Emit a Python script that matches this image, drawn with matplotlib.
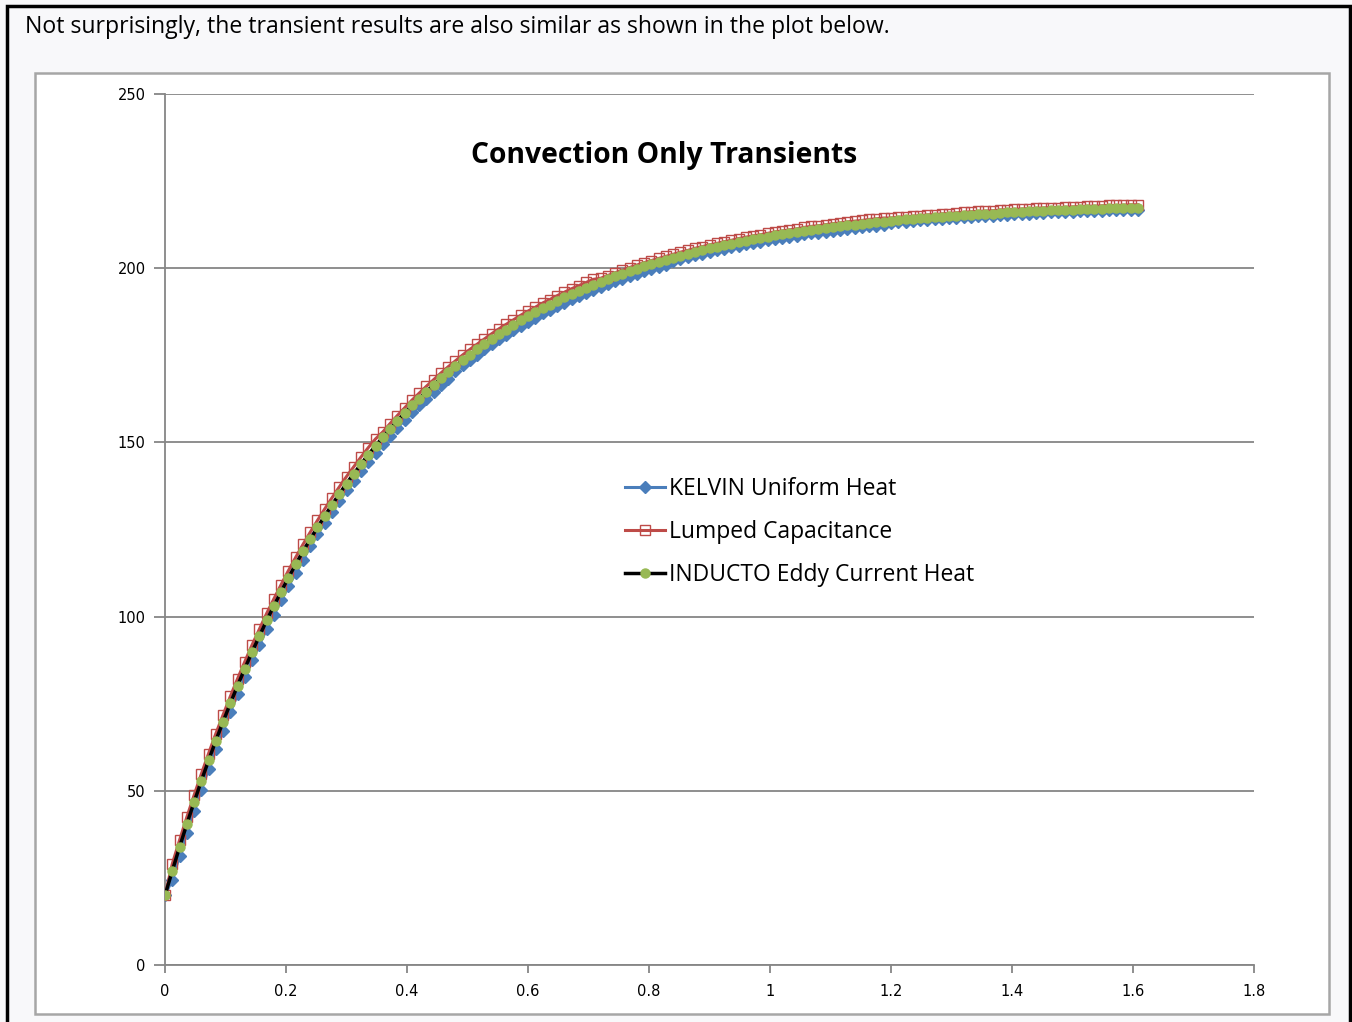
import numpy as np
import matplotlib.pyplot as plt
from matplotlib.ticker import FuncFormatter

# time grid (s) : markers every 0.012 s from 0 to 1.608
time = np.round(np.arange(135) * 0.012, 3)

# temperatures
inducto = [20.0, 27.0, 33.8, 40.4, 46.7, 52.8, 58.7, 64.4, 69.8, 75.1,
           80.2, 85.1, 89.9, 94.4, 98.9, 103.1, 107.2, 111.2, 115.0, 118.7,
           122.2, 125.6, 128.9, 132.1, 135.2, 138.2, 141.0, 143.8, 146.5, 149.0,
           151.5, 153.9, 156.2, 158.4, 160.6, 162.6, 164.6, 166.5, 168.4, 170.2,
           171.9, 173.6, 175.2, 176.7, 178.2, 179.7, 181.1, 182.4, 183.7, 185.0,
           186.2, 187.3, 188.5, 189.5, 190.6, 191.6, 192.6, 193.5, 194.4, 195.3,
           196.1, 196.9, 197.7, 198.4, 199.2, 199.9, 200.6, 201.2, 201.8, 202.4,
           203.0, 203.6, 204.1, 204.7, 205.2, 205.7, 206.1, 206.6, 207.0, 207.5,
           207.9, 208.3, 208.6, 209.0, 209.4, 209.7, 210.0, 210.3, 210.7, 211.0,
           211.2, 211.5, 211.8, 212.0, 212.3, 212.5, 212.7, 213.0, 213.2, 213.4,
           213.6, 213.8, 214.0, 214.1, 214.3, 214.5, 214.6, 214.8, 214.9, 215.1,
           215.2, 215.4, 215.5, 215.6, 215.7, 215.9, 216.0, 216.1, 216.2, 216.3,
           216.4, 216.5, 216.6, 216.6, 216.7, 216.8, 216.9, 217.0, 217.0, 217.1,
           217.2, 217.2, 217.3, 217.4, 217.4]

lumped = [20.0, 29.0, 35.8, 42.4, 48.7, 54.8, 60.7, 66.4, 71.8, 77.1,
          82.2, 87.1, 91.9, 96.4, 100.9, 105.1, 109.2, 113.2, 117.0, 120.7,
          124.2, 127.6, 130.9, 134.1, 137.2, 140.2, 143.0, 145.8, 148.5, 151.0,
          153.0, 155.4, 157.7, 159.9, 162.1, 164.1, 166.1, 168.0, 169.9, 171.7,
          173.4, 175.1, 176.7, 178.2, 179.7, 181.2, 182.6, 183.9, 185.2, 186.5,
          187.7, 188.8, 190.0, 191.0, 192.1, 193.1, 194.1, 195.0, 195.9, 196.8,
          197.1, 197.9, 198.7, 199.4, 200.2, 200.9, 201.6, 202.2, 202.8, 203.4,
          204.0, 204.6, 205.1, 205.7, 206.2, 206.7, 207.1, 207.6, 208.0, 208.5,
          208.9, 209.3, 209.6, 210.0, 210.4, 210.7, 211.0, 211.3, 211.7, 212.0,
          212.2, 212.5, 212.8, 213.0, 213.3, 213.5, 213.7, 214.0, 214.2, 214.4,
          214.4, 214.6, 214.8, 214.9, 215.1, 215.3, 215.4, 215.6, 215.7, 215.9,
          216.0, 216.2, 216.3, 216.4, 216.5, 216.7, 216.8, 216.9, 217.0, 217.1,
          217.2, 217.3, 217.4, 217.4, 217.5, 217.6, 217.7, 217.8, 217.8, 217.9,
          218.0, 218.0, 218.1, 218.2, 218.2]

kelvin = [20.0, 24.5, 31.3, 37.9, 44.2, 50.3, 56.2, 61.9, 67.3, 72.6,
          77.7, 82.6, 87.4, 91.9, 96.4, 100.6, 104.7, 108.7, 112.5, 116.2,
          120.2, 123.6, 126.9, 130.1, 133.2, 136.2, 139.0, 141.8, 144.5, 147.0,
          149.5, 151.9, 154.2, 156.4, 158.6, 160.6, 162.6, 164.5, 166.4, 168.2,
          170.4, 172.1, 173.7, 175.2, 176.7, 178.2, 179.6, 180.9, 182.2, 183.5,
          184.7, 185.8, 187.0, 188.0, 189.1, 190.1, 191.1, 192.0, 192.9, 193.8,
          194.6, 195.4, 196.2, 196.9, 197.7, 198.4, 199.1, 199.7, 200.3, 200.9,
          202.0, 202.6, 203.1, 203.7, 204.2, 204.7, 205.1, 205.6, 206.0, 206.5,
          206.9, 207.3, 207.6, 208.0, 208.4, 208.7, 209.0, 209.3, 209.7, 210.0,
          210.2, 210.5, 210.8, 211.0, 211.3, 211.5, 211.7, 212.0, 212.2, 212.4,
          213.0, 213.2, 213.4, 213.5, 213.7, 213.9, 214.0, 214.2, 214.3, 214.5,
          214.6, 214.8, 214.9, 215.0, 215.1, 215.3, 215.4, 215.5, 215.6, 215.7,
          215.8, 215.9, 216.0, 216.0, 216.1, 216.2, 216.3, 216.4, 216.4, 216.5,
          216.6, 216.6, 216.7, 216.8, 216.8]

x_ticks = [0, 0.2, 0.4, 0.6, 0.8, 1.0, 1.2, 1.4, 1.6, 1.8]
y_ticks = [0, 50, 100, 150, 200, 250]

W, H = 1352, 1022
fig = plt.figure(figsize=(W / 100, H / 100), dpi=100)
fig.patch.set_facecolor('#f8f8fa')

# page border + chart area frame
page = fig.add_axes([0, 0, 1, 1], zorder=-5)
page.set_xlim(0, W)
page.set_ylim(H, 0)
page.axis('off')
page.plot([7, 7, 1350, 1350], [H, 6, 6, H], color='black', lw=2.5, solid_joinstyle='miter')
page.add_patch(plt.Rectangle((35, 73), 1294, 941, facecolor='white', edgecolor='#a6a6a6', lw=1.8))
page.text(25, 27, 'Not surprisingly, the transient results are also similar as shown in the plot below.',
          fontsize=16.6, family='Open Sans', va='center', ha='left', color='black')

gray = '#868686'
ax = fig.add_axes([165 / W, 1 - 965 / H, (1254 - 165) / W, (965 - 94) / H])
ax.set_facecolor('none')

ax.plot(time, kelvin, color='#4a7ebb', lw=2.2, marker='D', ms=6.5, mfc='#4a7ebb', mec='#4a7ebb',
        label='KELVIN Uniform Heat', zorder=3)
ax.plot(time, lumped, color='#be4b48', lw=2.2, marker='s', ms=7, mfc='none', mec='#be4b48', mew=1.0,
        label='Lumped Capacitance', zorder=4)
ax.plot(time, inducto, color='black', lw=2.5, marker='o', ms=6.5, mfc='#98b954', mec='#98b954',
        label='INDUCTO Eddy Current Heat', zorder=5)

ax.set_xlim(0, 1.8)
ax.set_ylim(0, 250)
ax.set_xticks(x_ticks)
ax.set_yticks(y_ticks)
ax.xaxis.set_major_formatter(FuncFormatter(lambda v, p: '%g' % v))
ax.grid(axis='y', color=gray, lw=1.3)
ax.set_axisbelow(True)
for s in ['top', 'right']:
    ax.spines[s].set_visible(False)
for s in ['left', 'bottom']:
    ax.spines[s].set_color(gray)
    ax.spines[s].set_linewidth(1.3)
ax.tick_params(axis='y', direction='out', length=8, width=1.3, color=gray, labelsize=10.5, pad=6)
ax.tick_params(axis='x', direction='out', length=6, width=1.3, color=gray, labelsize=10.5, pad=8)

ax.text((664 - 165) / (1254 - 165), (965 - 155) / (965 - 94), 'Convection Only Transients',
        transform=ax.transAxes, ha='center', va='center',
        fontsize=20.3, fontweight='bold', family='Open Sans')

leg = ax.legend(loc='upper left', bbox_to_anchor=(616 / W, 1 - 468 / H), bbox_transform=fig.transFigure,
                frameon=False, prop={'family': 'Open Sans', 'size': 16.5}, handlelength=1.75,
                handletextpad=0.17, labelspacing=0.82, borderaxespad=0)

fig.savefig('out.png', dpi=100, facecolor=fig.get_facecolor())
